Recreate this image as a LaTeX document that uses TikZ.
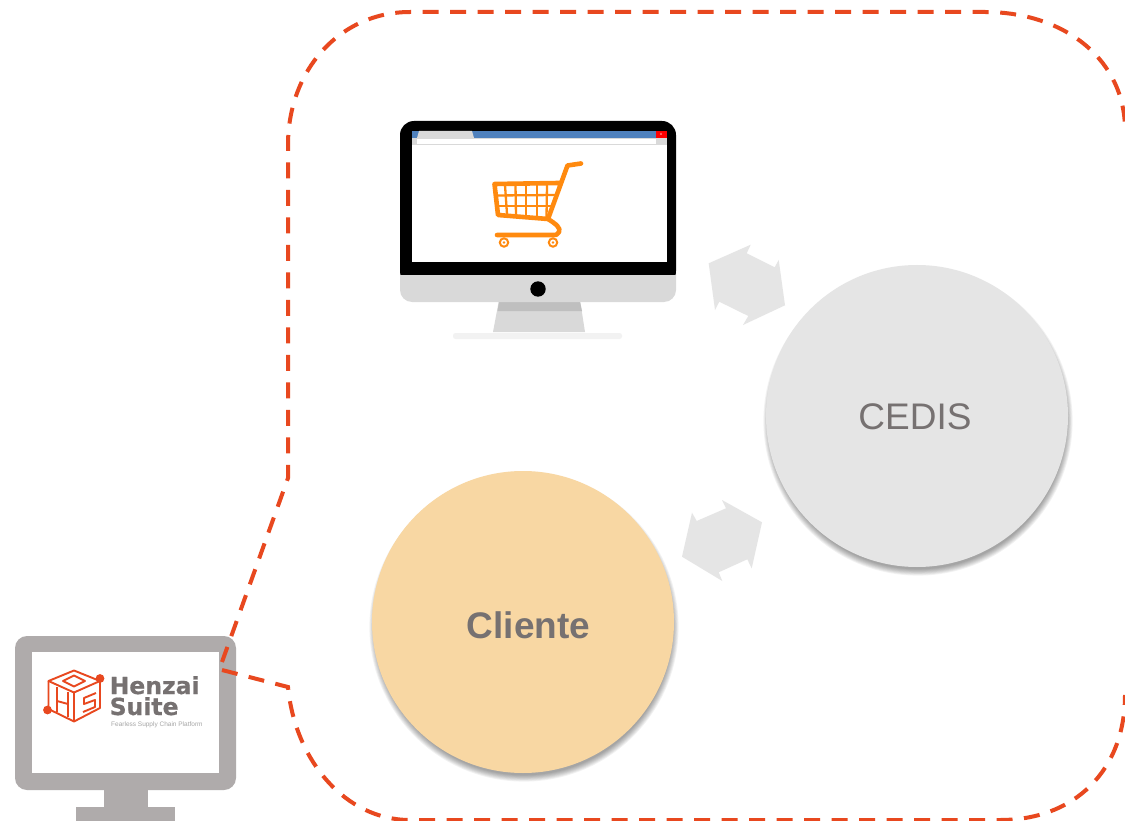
\documentclass[tikz,border=0pt]{standalone}
\usepackage{fontspec}
\setmainfont{Liberation Sans}
\newfontfamily\logofont[BoldFeatures={FakeBold=0.6}]{DejaVu Sans}
\definecolor{dashc}{HTML}{E8481F}
\definecolor{cedisc}{HTML}{E5E5E5}
\definecolor{clientc}{HTML}{F8D7A3}
\definecolor{txtc}{HTML}{767171}
\definecolor{monc}{HTML}{AFABAB}
\definecolor{carto}{HTML}{FF8A0F}
\definecolor{lgray}{HTML}{D9D9D9}
\definecolor{bluebar}{HTML}{4F81BD}
\tikzset{
  bigcircle/.style={circle,minimum size=302pt,inner sep=0pt,text=txtc},
  cartline/.style={draw=carto,line width=4.6pt,line cap=round,line join=round},
  cartgrid/.style={draw=carto,line width=2.3pt},
  logoline/.style={draw=dashc,line width=1.9pt,line join=round},
  logotext/.style={inner sep=0pt,anchor=base west,text=txtc,font=\logofont\bfseries\fontsize{23.5}{24}\selectfont},
  dashline/.style={draw=dashc,line width=4pt,dash pattern=on 16pt off 11.5pt},
  flowshape/.style={fill=cedisc,draw=none}
}
\newcommand{\softshadow}[3]{%
  \foreach \k in {1,...,8}{\fill[black,opacity=0.05] (#1+1,#2+5) circle ({#3+4.5-\k*0.9});}%
}
\begin{document}
\begin{tikzpicture}[x=1pt,y=-1pt]
\useasboundingbox (0,0) rectangle (1125,821);
\fill[white] (0,0) rectangle (1125,821);

% left monitor
\fill[monc] (104,785) rectangle (148,810);
\fill[monc] (76,807) rectangle (175,821);
\fill[monc,rounded corners=12pt] (15,636) rectangle (236,790);
\fill[white] (32,652) rectangle (219,773);

% logo
\draw[logoline] (74,670.5) -- (100,681) -- (74,692.5) -- (48.5,681) -- cycle;
\draw[logoline] (74,675.5) -- (85,681) -- (74,686.5) -- (63,681) -- cycle;
\draw[logoline] (48.5,681) -- (48.5,709) -- (74,721.5) -- (100,708) -- (100,681);
\draw[logoline] (74,692.5) -- (74,721.5);
\draw[logoline] (57,687) -- (57,712);
\draw[logoline] (68,692) -- (68,717);
\draw[logoline] (57,701) -- (68,704);
\draw[logoline] (96,693) -- (84,698) -- (84,704) -- (95,700) -- (95,707) -- (83,712);
\fill[dashc] (100,678.5) circle (4.4);
\fill[dashc] (47.5,710) circle (4.4);
\node[logotext] (henzai) at (109.5,694) {Henzai};
\node[logotext] (suite) at (109.5,715) {Suite};
\node[inner sep=0pt,anchor=base west,font=\fontsize{6.5}{7}\selectfont,text=gray!70] (tag) at (111,726) {Fearless Supply Chain Platform};

% dashed outline
\coordinate (a1) at (222,662);
\coordinate (a2) at (288,478);
\coordinate (a3) at (288,145);
\coordinate (a4) at (410,12);
\coordinate (a5) at (985,12);
\coordinate (a6) at (1125,130);
\coordinate (a7) at (1125,695);
\coordinate (a8) at (1000,820);
\coordinate (a9) at (410,820);
\coordinate (a10) at (288,687);
\coordinate (a11) at (222,670);
\draw[dashline] (a1) -- (a2) -- (a3)
  .. controls (288,70) and (340,12) .. (a4) -- (a5)
  .. controls (1065,12) and (1125,60) .. (a6);
\draw[dashline] (a11) -- (a10) .. controls (295,760) and (345,820) .. (a9) -- (a8)
  .. controls (1075,820) and (1125,770) .. (a7);

% shop monitor
\fill[lgray] (499,300) -- (580,300) -- (585,332) -- (493,332) -- cycle;
\fill[black!25] (499,302) -- (580,302) -- (582,311) -- (497.5,311) -- cycle;
\fill[black!5,rounded corners=2.5pt] (453,333) rectangle (622,339);
\fill[lgray,rounded corners=12pt] (400,260) rectangle (676,302);
\fill[black,rounded corners=14pt] (400,285) rectangle (676,121);
\fill[lgray] (400,275) rectangle (676,290);
\fill[white] (412,131) rectangle (666.5,262);
\fill[bluebar] (412,131) rectangle (666.5,138);
\fill[lgray] (417,138) -- (419,131) -- (472,131) -- (474,138) -- cycle;
\fill[lgray] (412,138) rectangle (666.5,145);
\fill[white] (417,139) rectangle (656,144);
\fill[red] (656,131) rectangle (666.5,138);
\node[inner sep=0pt,font=\fontsize{4}{4}\selectfont,text=white] (xmark) at (661.2,134.5) {x};
\fill[black] (538,289) circle (7.7);

% cart
\draw[cartgrid] (505,185) -- (507,214);
\draw[cartgrid] (515.5,185) -- (516,216);
\draw[cartgrid] (526,185) -- (526,216);
\draw[cartgrid] (537,185) -- (537,217);
\draw[cartgrid] (547,185) -- (546.5,218);
\draw[cartgrid] (495,195.5) -- (556,195);
\draw[cartgrid] (496,206) -- (552,206);
\draw[cartline] (581,163.5) -- (567.5,165.5) -- (548,219) -- (498,215) -- (494.5,184) -- (559,183);
\draw[cartline] (548,219) .. controls (556,224) and (561,228) .. (559,232) .. controls (558,235) and (556,235) .. (552,235) -- (497,235);
\foreach \cx in {504,553}{
  \draw[carto,line width=2pt,fill=white] (\cx,242.5) circle (4.2);
  \fill[carto] (\cx,242.5) circle (1.4);
}

% connectors
\fill[flowshape] (708.7,263.3) -- (750.7,244.7) -- (746.7,253.3) -- (774.7,267.3) -- (778.7,260) -- (785,305.3) -- (743,325) -- (748.3,316) -- (719.3,301.7) -- (715,310) -- cycle;
\fill[flowshape] (682,556.7) -- (692,512.7) -- (696.7,521) -- (726,508.3) -- (722,500) -- (762,522.3) -- (751.7,568.3) -- (747.3,559.3) -- (718.7,572.3) -- (722.3,581) -- cycle;

% circles
\softshadow{917}{416}{151}
\softshadow{523}{622}{151}
\node[bigcircle,fill=cedisc] (cedis) at (917,416) {};
\node[bigcircle,fill=clientc] (cliente) at (523,622) {};
\node[inner sep=0pt,text=txtc,font=\fontsize{37}{40}\selectfont] (cedislabel) at (915,417) {CEDIS};
\node[inner sep=0pt,text=txtc,font=\bfseries\fontsize{37}{40}\selectfont] (clientelabel) at (528.5,625) {Cliente};
\end{tikzpicture}
\end{document}
